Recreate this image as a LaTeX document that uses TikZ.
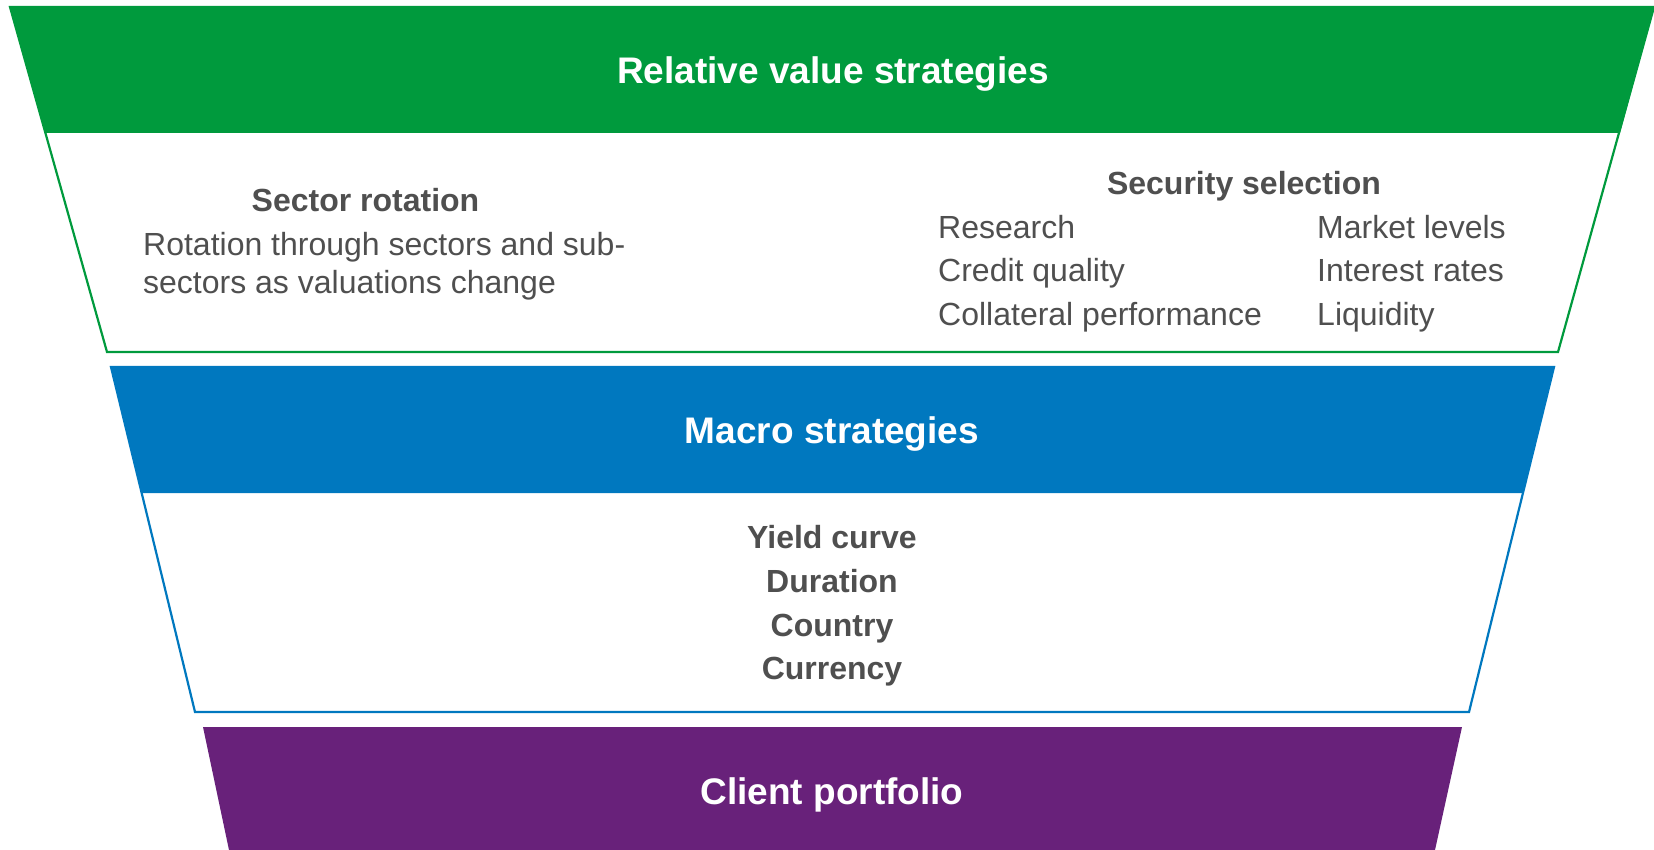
\documentclass[tikz,border=0pt]{standalone}
\usepackage{fontspec}
\setmainfont{Liberation Sans}
\definecolor{rvgreen}{HTML}{009A3D}
\definecolor{macroblue}{HTML}{0078BF}
\definecolor{clientpurple}{HTML}{68217A}
\definecolor{bodygray}{HTML}{4F4F4F}
\begin{document}
\begin{tikzpicture}[x=1pt,y=-1pt,
  bandtitle/.style={text=white,font=\fontsize{37}{44}\selectfont\bfseries,anchor=base,inner sep=0pt},
  subhead/.style={text=bodygray,font=\fontsize{32}{38}\selectfont\bfseries,anchor=base,inner sep=0pt},
  bodyline/.style={text=bodygray,font=\fontsize{32}{38}\selectfont,anchor=base west,inner sep=0pt},
  outline/.style={line width=2.2pt,line join=miter}]
\useasboundingbox (0,0) rectangle (1654,850);

% relative value tier
\draw[outline,rvgreen,fill=white] (10,7) -- (107,352) -- (1558,352) -- (1654,7) -- cycle;
\fill[rvgreen] (10,7) -- (1654,7) -- (1620,133) -- (45.5,133) -- cycle;

% macro tier
\draw[outline,macroblue,fill=white] (111,367) -- (195,712) -- (1469,712) -- (1554,367) -- cycle;
\fill[macroblue] (111,367) -- (1554,367) -- (1523,493) -- (141.6,493) -- cycle;

% client tier
\fill[clientpurple] (203,727) -- (1462,727) -- (1435,850) -- (229,850) -- cycle;

% titles
\node[bandtitle] (rv) at (833,84) {Relative value strategies};
\node[bandtitle] (macro) at (832,443) {Macro strategies};
\node[bandtitle] (client) at (832,804) {Client portfolio};

% sector rotation
\node[subhead] (sector) at (365.5,212) {Sector rotation};
\node[bodyline] (rot1) at (143,256) {Rotation through sectors and sub-};
\node[bodyline] (rot2) at (143,294) {sectors as valuations change};

% security selection
\node[subhead] (security) at (1244,195) {Security selection};
\node[bodyline] (research) at (938,239) {Research};
\node[bodyline] (credit) at (938,282) {Credit quality};
\node[bodyline] (collateral) at (938,325) {Collateral performance};
\node[bodyline] (market) at (1317,239) {Market levels};
\node[bodyline] (interest) at (1317,282) {Interest rates};
\node[bodyline] (liquidity) at (1317,325) {Liquidity};

% macro drivers
\node[subhead] (yield) at (832,548) {Yield curve};
\node[subhead] (duration) at (832,592) {Duration};
\node[subhead] (country) at (832,636) {Country};
\node[subhead] (currency) at (832,679) {Currency};
\end{tikzpicture}
\end{document}
